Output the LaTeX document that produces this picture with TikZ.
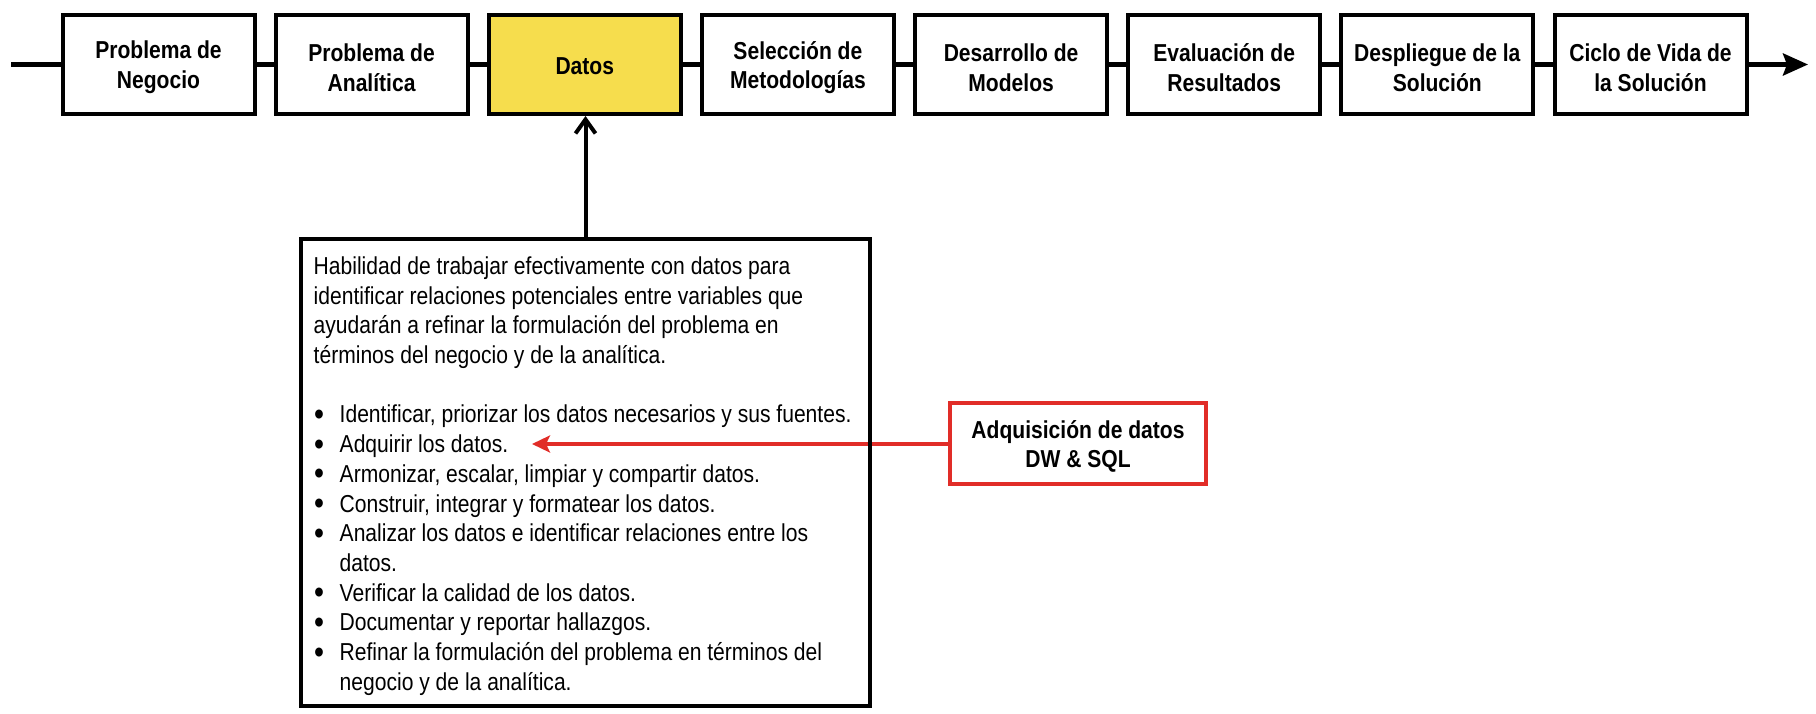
\documentclass[tikz,border=0pt]{standalone}
\usepackage{fontspec}
\setmainfont{Liberation Sans}[FakeStretch=0.86]
\usetikzlibrary{arrows.meta,calc}
\definecolor{datosyellow}{RGB}{246,221,77}
\definecolor{adqred}{RGB}{225,45,40}
\newcommand\bigfont{\fontsize{24.5}{29.6}\selectfont}
\newcommand\descfont{\fontsize{24.5}{29.7}\selectfont}
\newcommand\bul{\makebox[26pt][l]{\hspace{0.5pt}\raisebox{-2.6pt}{\scalebox{1.35}{\textbullet}}}}
\begin{document}
\begin{tikzpicture}[x=1pt,y=-1pt,
  stagebox/.style={draw=black, line width=4pt, fill=white, minimum width=192pt,
    minimum height=99pt, inner sep=0pt},
  stagetext/.style={inner sep=0pt, align=center, font=\bigfont\bfseries},
  flow/.style={draw=black, line width=4.5pt},
  descbox/.style={draw=black, line width=4pt, minimum width=569pt, minimum height=467pt, inner sep=0pt},
  adqbox/.style={draw=adqred, line width=4pt, fill=white, minimum width=256pt, minimum height=81pt,
    inner sep=0pt},
  adqarrow/.style={draw=adqred, line width=3.5pt, -{Stealth[length=18pt,width=17pt,inset=4pt]}},
  uparrow/.style={draw=black, line width=4pt, -{Straight Barb[length=14pt,width=20pt]}},
]
\useasboundingbox (0,0) rectangle (1816,714);

% stage boxes
\node[stagebox] (s1) at (158.5,64.5) {};
\node[stagebox] (s2) at (371.6,64.5) {};
\node[stagebox, fill=datosyellow] (s3) at (584.8,64.5) {};
\node[stagebox] (s4) at (797.9,64.5) {};
\node[stagebox] (s5) at (1011.1,64.5) {};
\node[stagebox] (s6) at (1224.2,64.5) {};
\node[stagebox] (s7) at (1437.3,64.5) {};
\node[stagebox] (s8) at (1650.5,64.5) {};

\node[stagetext] (t1) at ($(s1.center)+(0,3)$) {Problema de\\Negocio};
\node[stagetext] (t2) at ($(s2.center)+(0,3)$) {Problema de\\Analítica};
\node[stagetext] (t3) at ($(s3.center)+(0,1.5)$) {Datos};
\node[stagetext] (t4) at ($(s4.center)+(0,3)$) {Selección de\\Metodologías};
\node[stagetext] (t5) at ($(s5.center)+(0,3)$) {Desarrollo de\\Modelos};
\node[stagetext] (t6) at ($(s6.center)+(0,3)$) {Evaluación de\\Resultados};
\node[stagetext] (t7) at ($(s7.center)+(0,3)$) {Despliegue de la\\Solución};
\node[stagetext] (t8) at ($(s8.center)+(0,3)$) {Ciclo de Vida de\\la Solución};

\coordinate (start) at (11,64.5);
\coordinate (end) at (1808,64.5);

\draw[flow] (start) -- (s1.west);
\draw[flow] (s1.east) -- (s2.west);
\draw[flow] (s2.east) -- (s3.west);
\draw[flow] (s3.east) -- (s4.west);
\draw[flow] (s4.east) -- (s5.west);
\draw[flow] (s5.east) -- (s6.west);
\draw[flow] (s6.east) -- (s7.west);
\draw[flow] (s7.east) -- (s8.west);
\draw[flow, -{Stealth[length=25pt,width=22pt,inset=4pt]}] (s8.east) -- (end);

% red box and arrow
\node[adqbox] (adq) at (1078,443.5) {};
\node[stagetext] (adqtext) at ($(adq.center)+(0,3)$) {Adquisición de datos\\DW \& SQL};
\coordinate (adqtarget) at (532,444);
\draw[adqarrow] (adq.west |- adqtarget) -- (adqtarget);

% description box
\node[descbox] (desc) at (585.5,472.5) {};
\draw[uparrow] (desc.north) -- (desc.north |- s3.south);

\node[anchor=north west, inner sep=0pt, font=\descfont] (desctext) at (313.5,253.5) {%
\begin{tabular}{@{}l@{}}
Habilidad de trabajar efectivamente con datos para\\
identificar relaciones potenciales entre variables que\\
ayudarán a refinar la formulación del problema en\\
términos del negocio y de la analítica.\\
\\
\bul Identificar, priorizar los datos necesarios y sus fuentes.\\
\bul Adquirir los datos.\\
\bul Armonizar, escalar, limpiar y compartir datos.\\
\bul Construir, integrar y formatear los datos.\\
\bul Analizar los datos e identificar relaciones entre los\\
\hspace*{26pt}datos.\\
\bul Verificar la calidad de los datos.\\
\bul Documentar y reportar hallazgos.\\
\bul Refinar la formulación del problema en términos del\\
\hspace*{26pt}negocio y de la analítica.
\end{tabular}};
\end{tikzpicture}
\end{document}
